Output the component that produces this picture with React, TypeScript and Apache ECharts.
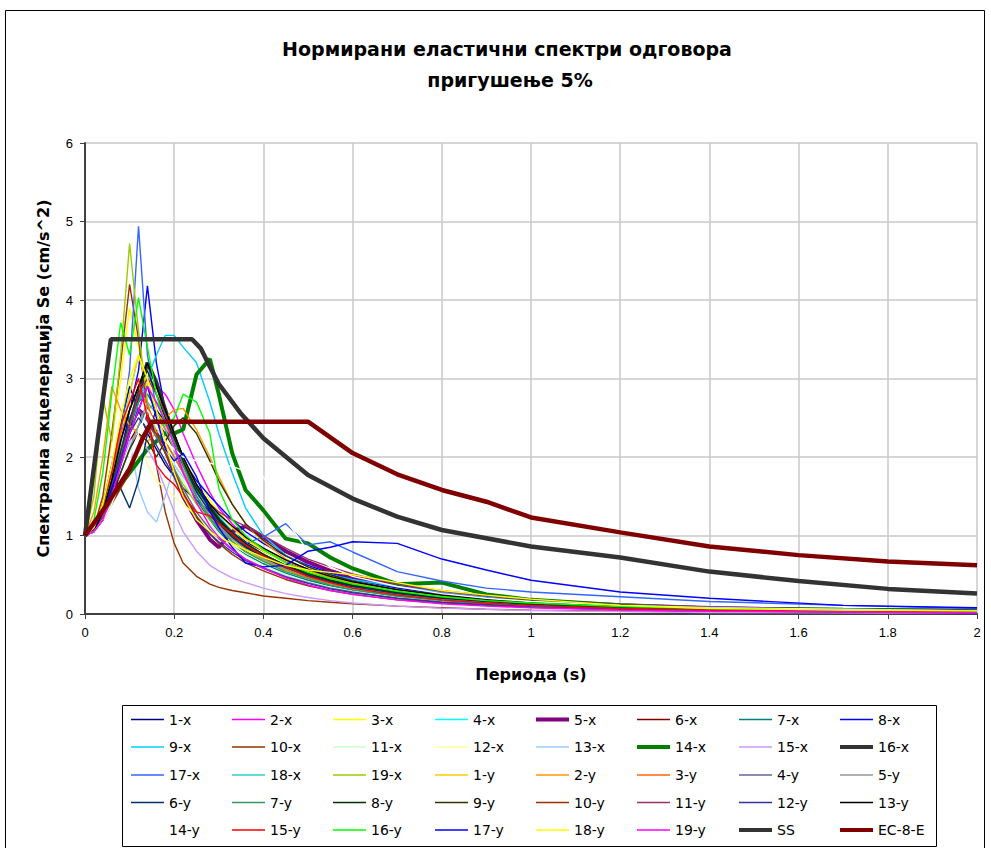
import React, { useEffect, useRef } from 'react';
import * as echarts from 'echarts';

// Period grid (s) shared by the recorded spectra
const periods = [0, 0.02, 0.04, 0.06, 0.08, 0.1, 0.12, 0.14, 0.16, 0.18, 0.2, 0.22, 0.25, 0.28, 0.3, 0.33, 0.36, 0.4, 0.45, 0.5, 0.55, 0.6, 0.7, 0.8, 0.9, 1.0, 1.2, 1.4, 1.7, 2.0];

const s1x = [1.0, 1.1, 1.4, 1.9, 2.4, 2.9, 2.6, 2.3, 2.1, 1.9, 1.75, 1.6, 1.45, 1.3, 1.2, 1.05, 0.92, 0.8, 0.66, 0.55, 0.46, 0.39, 0.28, 0.21, 0.16, 0.13, 0.08, 0.06, 0.04, 0.03];
const s2x = [1.0, 1.05, 1.2, 1.5, 1.9, 2.3, 2.7, 3.0, 2.9, 2.8, 2.6, 2.3, 1.9, 1.55, 1.35, 1.15, 0.98, 0.82, 0.66, 0.54, 0.45, 0.38, 0.27, 0.2, 0.15, 0.12, 0.08, 0.055, 0.035, 0.025];
const s3x = [1.0, 1.1, 1.5, 2.2, 3.0, 3.9, 3.4, 2.9, 2.6, 2.4, 2.2, 2.0, 1.7, 1.45, 1.3, 1.1, 0.95, 0.8, 0.65, 0.54, 0.46, 0.4, 0.3, 0.23, 0.18, 0.15, 0.1, 0.07, 0.05, 0.035];
const s4x = [1.0, 1.1, 1.3, 1.7, 2.3, 2.8, 3.3, 2.9, 2.6, 2.4, 2.2, 1.95, 1.65, 1.4, 1.25, 1.05, 0.9, 0.76, 0.62, 0.5, 0.42, 0.36, 0.26, 0.2, 0.15, 0.12, 0.08, 0.06, 0.04, 0.03];
const s5x = [1.0, 1.1, 1.3, 1.6, 2.0, 2.4, 2.6, 2.5, 2.3, 2.1, 1.8, 1.5, 1.2, 0.95, 0.85, 1.05, 1.12, 0.98, 0.8, 0.66, 0.55, 0.47, 0.36, 0.28, 0.22, 0.17, 0.11, 0.075, 0.05, 0.035];
const s6x = [1.0, 1.05, 1.2, 1.5, 1.9, 2.2, 2.4, 2.6, 2.45, 2.3, 2.1, 1.9, 1.6, 1.35, 1.2, 1.02, 0.88, 0.74, 0.6, 0.5, 0.42, 0.36, 0.27, 0.2, 0.16, 0.13, 0.09, 0.065, 0.045, 0.035];
const s7x = [1.0, 1.05, 1.3, 1.7, 2.1, 2.5, 2.7, 2.8, 2.6, 2.35, 2.1, 1.8, 1.45, 1.2, 1.05, 0.88, 0.76, 0.64, 0.52, 0.43, 0.36, 0.3, 0.22, 0.16, 0.13, 0.1, 0.065, 0.045, 0.03, 0.02];
const s8x = [1.0, 1.1, 1.3, 1.6, 2.0, 2.6, 3.1, 4.18, 3.2, 2.6, 2.2, 1.95, 1.7, 1.5, 1.38, 1.2, 1.05, 0.9, 0.74, 0.62, 0.52, 0.44, 0.33, 0.25, 0.2, 0.16, 0.11, 0.08, 0.055, 0.045];
const s9x = [1.0, 1.05, 1.2, 1.5, 1.9, 2.3, 2.7, 3.0, 3.3, 3.55, 3.55, 3.4, 3.2, 2.7, 2.3, 1.8, 1.35, 1.0, 0.75, 0.6, 0.5, 0.44, 0.35, 0.28, 0.22, 0.18, 0.12, 0.09, 0.06, 0.05];
const s10x = [1.0, 1.1, 1.5, 2.3, 3.2, 4.2, 3.5, 2.6, 1.9, 1.3, 0.9, 0.65, 0.48, 0.38, 0.34, 0.3, 0.27, 0.23, 0.2, 0.17, 0.15, 0.13, 0.1, 0.08, 0.06, 0.05, 0.035, 0.025, 0.02, 0.015];
const s11x = [1.0, 1.05, 1.25, 1.6, 2.0, 2.3, 2.5, 2.4, 2.25, 2.1, 1.9, 1.7, 1.4, 1.15, 1.02, 0.86, 0.74, 0.62, 0.5, 0.41, 0.34, 0.29, 0.21, 0.16, 0.12, 0.1, 0.065, 0.045, 0.03, 0.02];
const s12x = [1.0, 1.1, 1.4, 1.8, 2.3, 2.7, 2.3, 1.9, 1.7, 1.6, 1.5, 1.4, 1.25, 1.1, 1.0, 0.88, 0.78, 0.67, 0.55, 0.46, 0.38, 0.32, 0.24, 0.18, 0.14, 0.11, 0.075, 0.055, 0.04, 0.03];
const s13x = [1.0, 1.05, 1.3, 1.6, 1.9, 2.2, 1.6, 1.3, 1.17, 1.5, 1.9, 1.75, 1.5, 1.25, 1.1, 0.95, 0.85, 0.74, 0.62, 0.52, 0.44, 0.37, 0.28, 0.21, 0.17, 0.13, 0.09, 0.065, 0.045, 0.035];
const s14x = [1.0, 1.1, 1.25, 1.45, 1.65, 1.8, 1.95, 2.1, 2.2, 2.3, 2.3, 2.35, 3.05, 3.25, 2.8, 2.05, 1.58, 1.32, 0.96, 0.9, 0.72, 0.58, 0.38, 0.4, 0.25, 0.18, 0.11, 0.07, 0.055, 0.045];
const s15x = [1.0, 1.05, 1.2, 1.5, 1.9, 2.2, 2.3, 2.1, 1.9, 1.6, 1.3, 1.05, 0.8, 0.62, 0.55, 0.46, 0.4, 0.33, 0.26, 0.21, 0.17, 0.14, 0.1, 0.075, 0.06, 0.045, 0.03, 0.02, 0.015, 0.01];
const s16x = [1.0, 1.1, 1.3, 1.6, 2.0, 2.4, 2.8, 3.2, 2.95, 2.6, 2.25, 1.95, 1.6, 1.35, 1.2, 1.02, 0.88, 0.74, 0.6, 0.49, 0.41, 0.35, 0.26, 0.2, 0.16, 0.12, 0.085, 0.06, 0.04, 0.03];
const s17x = [1.0, 1.1, 1.3, 1.7, 2.3, 3.1, 4.94, 3.3, 2.6, 2.2, 2.0, 1.8, 1.5, 1.25, 1.1, 0.95, 0.9, 0.98, 1.15, 0.88, 0.92, 0.79, 0.54, 0.42, 0.33, 0.28, 0.22, 0.16, 0.11, 0.07];
const s18x = [1.0, 1.05, 1.2, 1.5, 1.8, 2.1, 2.4, 2.6, 2.7, 2.55, 2.3, 2.0, 1.6, 1.3, 1.15, 0.97, 0.84, 0.7, 0.57, 0.47, 0.39, 0.33, 0.24, 0.18, 0.14, 0.11, 0.075, 0.055, 0.04, 0.03];
const s19x = [1.0, 1.5, 2.77, 2.2, 3.3, 4.72, 3.6, 2.7, 2.3, 2.05, 1.85, 1.65, 1.4, 1.2, 1.08, 0.93, 0.8, 0.68, 0.56, 0.46, 0.39, 0.33, 0.25, 0.19, 0.15, 0.12, 0.08, 0.06, 0.04, 0.03];
const s1y = [1.0, 1.1, 1.3, 1.7, 2.2, 2.8, 3.3, 2.9, 2.6, 2.4, 2.2, 1.95, 1.65, 1.4, 1.28, 1.1, 0.96, 0.82, 0.68, 0.57, 0.48, 0.41, 0.31, 0.24, 0.19, 0.15, 0.1, 0.075, 0.05, 0.04];
const s2y = [1.0, 1.3, 2.0, 2.9, 2.6, 2.4, 2.3, 2.2, 2.3, 2.5, 2.6, 2.62, 2.35, 2.0, 1.75, 1.4, 1.15, 0.92, 0.7, 0.56, 0.46, 0.39, 0.29, 0.22, 0.17, 0.14, 0.095, 0.07, 0.05, 0.04];
const s3y = [1.0, 1.1, 1.35, 1.8, 2.3, 2.6, 2.9, 2.65, 2.4, 2.2, 2.0, 1.8, 1.5, 1.25, 1.12, 0.96, 0.83, 0.7, 0.57, 0.47, 0.39, 0.33, 0.24, 0.18, 0.14, 0.11, 0.075, 0.055, 0.04, 0.03];
const s4y = [1.0, 1.05, 1.2, 1.5, 1.9, 2.3, 2.6, 2.45, 2.25, 2.05, 1.85, 1.6, 1.3, 1.08, 0.96, 0.82, 0.7, 0.59, 0.48, 0.4, 0.33, 0.28, 0.2, 0.15, 0.12, 0.09, 0.06, 0.045, 0.03, 0.02];
const s5y = [1.0, 1.05, 1.2, 1.45, 1.8, 2.1, 2.4, 2.7, 2.55, 2.35, 2.1, 1.85, 1.5, 1.25, 1.12, 0.96, 0.83, 0.7, 0.58, 0.48, 0.4, 0.34, 0.25, 0.19, 0.15, 0.12, 0.08, 0.055, 0.04, 0.03];
const s6y = [1.0, 1.1, 1.4, 1.8, 1.6, 1.35, 1.7, 2.3, 2.6, 2.45, 2.2, 1.9, 1.55, 1.3, 1.15, 0.98, 0.85, 0.72, 0.59, 0.49, 0.41, 0.35, 0.26, 0.2, 0.16, 0.12, 0.08, 0.06, 0.04, 0.03];
const s7y = [1.0, 1.05, 1.25, 1.6, 2.0, 2.4, 2.7, 2.9, 2.7, 2.45, 2.2, 1.9, 1.5, 1.22, 1.08, 0.92, 0.79, 0.67, 0.54, 0.45, 0.37, 0.31, 0.23, 0.17, 0.13, 0.1, 0.07, 0.05, 0.035, 0.025];
const s8y = [1.0, 1.05, 1.3, 1.7, 2.2, 2.6, 2.9, 3.1, 2.8, 2.5, 2.25, 1.95, 1.6, 1.35, 1.2, 1.03, 0.9, 0.76, 0.62, 0.52, 0.43, 0.37, 0.28, 0.21, 0.17, 0.13, 0.09, 0.065, 0.045, 0.035];
const s9y = [1.0, 1.05, 1.2, 1.5, 1.8, 2.1, 2.3, 2.2, 2.0, 2.2, 2.4, 2.5, 2.3, 1.95, 1.7, 1.4, 1.15, 0.94, 0.74, 0.6, 0.5, 0.42, 0.31, 0.24, 0.19, 0.15, 0.1, 0.075, 0.05, 0.04];
const s10y = [1.0, 1.05, 1.2, 1.4, 1.6, 1.8, 2.1, 2.4, 2.3, 2.05, 1.8, 1.55, 1.25, 1.02, 0.9, 0.76, 0.65, 0.55, 0.44, 0.36, 0.3, 0.25, 0.18, 0.14, 0.11, 0.085, 0.055, 0.04, 0.03, 0.02];
const s11y = [1.0, 1.05, 1.25, 1.6, 2.0, 2.4, 2.8, 3.0, 2.8, 2.55, 2.3, 2.0, 1.65, 1.4, 1.3, 1.2, 1.12, 1.0, 0.84, 0.7, 0.6, 0.51, 0.38, 0.29, 0.23, 0.18, 0.12, 0.09, 0.06, 0.045];
const s12y = [1.0, 1.1, 1.3, 1.6, 2.0, 2.3, 2.5, 2.35, 2.15, 1.95, 1.75, 1.5, 1.22, 1.02, 0.92, 0.79, 0.68, 0.58, 0.47, 0.39, 0.32, 0.27, 0.2, 0.15, 0.12, 0.09, 0.06, 0.045, 0.03, 0.02];
const s13y = [1.0, 1.05, 1.3, 1.7, 2.2, 2.6, 2.9, 3.2, 2.9, 2.6, 2.3, 2.0, 1.65, 1.4, 1.27, 1.12, 0.98, 0.84, 0.69, 0.57, 0.48, 0.41, 0.31, 0.24, 0.19, 0.15, 0.1, 0.075, 0.05, 0.04];
const s14y = [1.0, 1.05, 1.2, 1.4, 1.7, 2.0, 2.3, 2.6, 2.4, 2.2, 2.1, 2.0, 1.95, 1.92, 1.9, 1.88, 1.82, 1.75, 1.2, 0.8, 0.6, 0.48, 0.35, 0.26, 0.2, 0.16, 0.11, 0.08, 0.06, 0.04];
const s15y = [1.0, 1.1, 1.4, 1.8, 2.4, 2.7, 3.0, 2.5, 1.9, 1.75, 1.65, 1.5, 1.3, 1.25, 1.15, 1.02, 0.88, 0.74, 0.6, 0.48, 0.4, 0.33, 0.24, 0.18, 0.14, 0.11, 0.07, 0.05, 0.035, 0.025];
const s16y = [1.0, 1.2, 1.8, 2.8, 3.71, 3.3, 4.03, 3.4, 2.8, 2.4, 2.5, 2.8, 2.7, 2.3, 1.6, 1.2, 1.0, 0.82, 0.65, 0.53, 0.45, 0.38, 0.29, 0.22, 0.17, 0.14, 0.095, 0.07, 0.05, 0.04];
const s17y = [1.0, 1.1, 1.3, 1.6, 1.9, 2.3, 2.6, 2.9, 2.5, 2.1, 1.95, 2.05, 1.75, 1.3, 1.1, 0.85, 0.65, 0.6, 0.62, 0.8, 0.85, 0.92, 0.9, 0.7, 0.56, 0.43, 0.28, 0.2, 0.11, 0.08];
const s18y = [1.0, 1.1, 1.4, 1.9, 2.5, 3.0, 3.3, 3.0, 2.6, 2.2, 1.8, 1.5, 1.2, 1.05, 0.98, 0.9, 0.82, 0.72, 0.62, 0.56, 0.53, 0.5, 0.4, 0.3, 0.24, 0.19, 0.11, 0.07, 0.05, 0.04];
const s19y = [1.0, 1.05, 1.2, 1.5, 1.9, 2.3, 2.6, 2.9, 2.7, 2.45, 2.15, 1.8, 1.42, 1.12, 0.98, 0.82, 0.7, 0.58, 0.46, 0.37, 0.3, 0.25, 0.18, 0.13, 0.1, 0.08, 0.05, 0.035, 0.025, 0.015];

// Design spectra
const ssPeriods = [0, 0.058, 0.24, 0.26, 0.28, 0.3, 0.35, 0.4, 0.5, 0.6, 0.7, 0.8, 1.0, 1.2, 1.4, 1.6, 1.8, 2.0];
const ssValues = [1.0, 3.5, 3.5, 3.38, 3.15, 2.93, 2.55, 2.24, 1.77, 1.47, 1.24, 1.07, 0.86, 0.72, 0.54, 0.42, 0.32, 0.26];
const ecPeriods = [0, 0.05, 0.1, 0.13, 0.15, 0.5, 0.6, 0.7, 0.8, 0.9, 1.0, 1.2, 1.4, 1.6, 1.8, 2.0];
const ecValues = [1.0, 1.4, 1.85, 2.25, 2.45, 2.45, 2.05, 1.78, 1.58, 1.43, 1.23, 1.04, 0.86, 0.75, 0.67, 0.62];

const recordNames = ['1-x', '2-x', '3-x', '4-x', '5-x', '6-x', '7-x', '8-x', '9-x', '10-x', '11-x', '12-x', '13-x', '14-x', '15-x', '16-x', '17-x', '18-x', '19-x',
  '1-y', '2-y', '3-y', '4-y', '5-y', '6-y', '7-y', '8-y', '9-y', '10-y', '11-y', '12-y', '13-y', '14-y', '15-y', '16-y', '17-y', '18-y', '19-y'];
const recordValues = [s1x, s2x, s3x, s4x, s5x, s6x, s7x, s8x, s9x, s10x, s11x, s12x, s13x, s14x, s15x, s16x, s17x, s18x, s19x,
  s1y, s2y, s3y, s4y, s5y, s6y, s7y, s8y, s9y, s10y, s11y, s12y, s13y, s14y, s15y, s16y, s17y, s18y, s19y];
const recordColors = ['#000080', '#FF00FF', '#FFFF00', '#00FFFF', '#800080', '#800000', '#008080', '#0000FF', '#00CCFF', '#993300', '#CCFFCC', '#FFFF99', '#99CCFF', '#008000', '#CC99FF', '#333333', '#3366FF', '#33CCCC', '#99CC00',
  '#FFCC00', '#FF9900', '#FF6600', '#666699', '#969696', '#003366', '#339966', '#003300', '#333300', '#993300', '#993366', '#333399', '#000000', '#FFFFFF', '#FF0000', '#00FF00', '#0000FF', '#FFFF00', '#FF00FF'];
const thickRecords = ['5-x', '14-x', '16-x'];

const titleLines = ['Нормирани еластични спектри одговора', 'пригушење 5%'];
const xName = 'Периода (s)';
const yName = 'Спектрална акцелерација Se (cm/s^2)';

const FONT = 'Liberation Sans, Arial, sans-serif';
const WIDE = 'DejaVu Sans, Verdana, sans-serif';

export default function App() {
  const ref = useRef<HTMLDivElement>(null);
  useEffect(() => {
    if (!ref.current) return;
    const chart = echarts.init(ref.current, null, { renderer: 'svg' });

    const series: any[] = recordNames.map((name, i) => {
      const thick = thickRecords.includes(name);
      return {
        type: 'line',
        name,
        data: periods.map((t, j) => [t, recordValues[i][j]]),
        symbol: 'none',
        color: recordColors[i],
        lineStyle: { color: recordColors[i], width: thick ? 4 : 1.4 },
        itemStyle: { color: recordColors[i] },
        emphasis: { disabled: true },
      };
    });
    series.push({
      type: 'line', name: 'SS', data: ssPeriods.map((t, j) => [t, ssValues[j]]), symbol: 'none',
      color: '#333333', lineStyle: { color: '#333333', width: 4.5 }, itemStyle: { color: '#333333' }, emphasis: { disabled: true },
    });
    series.push({
      type: 'line', name: 'EC-8-E', data: ecPeriods.map((t, j) => [t, ecValues[j]]), symbol: 'none',
      color: '#800000', lineStyle: { color: '#800000', width: 4.5 }, itemStyle: { color: '#800000' }, emphasis: { disabled: true },
    });

    const allNames = [...recordNames, 'SS', 'EC-8-E'];
    const colLeft = [131, 232, 333, 435, 536, 637, 739, 840];
    const rowMid = [720.5, 748, 776, 803.5, 831];
    const legends = allNames.map((name, i) => {
      const thick = thickRecords.includes(name) || name === 'SS' || name === 'EC-8-E';
      const h = thick ? 4 : 1.5;
      return {
        data: [{ name, icon: 'rect' }],
        left: colLeft[i % 8],
        top: rowMid[Math.floor(i / 8)] - 8,
        itemWidth: 33,
        itemHeight: h,
        itemGap: 0,
        padding: 0,
        selectedMode: false,
        itemStyle: { borderWidth: 0 },
        textStyle: { fontFamily: WIDE, fontSize: 14, color: '#000' },
      };
    });

    chart.setOption({
      animation: false,
      backgroundColor: '#ffffff',
      grid: { left: 85, top: 143, right: 14, bottom: 234, containLabel: false },
      xAxis: {
        type: 'value', min: 0, max: 2, interval: 0.2,
        name: xName, nameLocation: 'middle', nameGap: 52,
        nameTextStyle: { fontFamily: WIDE, fontWeight: 'bold', fontSize: 16, color: '#000' },
        axisLine: { show: true, onZero: false, lineStyle: { color: '#404040', width: 2 } },
        axisTick: { show: true, inside: false, length: 5, lineStyle: { color: '#404040', width: 1 } },
        axisLabel: { margin: 12, fontFamily: FONT, fontSize: 13, color: '#000', formatter: (v: number) => String(parseFloat(v.toFixed(1))) },
        splitLine: { show: true, lineStyle: { color: '#c8c8c8', width: 1.5 } },
      },
      yAxis: {
        type: 'value', min: 0, max: 6, interval: 1,
        name: yName, nameLocation: 'middle', nameGap: 34,
        nameTextStyle: { fontFamily: WIDE, fontWeight: 'bold', fontSize: 16, color: '#000' },
        axisLine: { show: true, onZero: false, lineStyle: { color: '#404040', width: 2 } },
        axisTick: { show: true, inside: false, length: 5, lineStyle: { color: '#404040', width: 1 } },
        axisLabel: { margin: 12, fontFamily: FONT, fontSize: 13, color: '#000' },
        splitLine: { show: true, lineStyle: { color: '#c8c8c8', width: 1.5 } },
      },
      legend: legends,
      series,
      graphic: [
        { type: 'rect', silent: true, z: -10, shape: { x: 5.5, y: 10.5, width: 979, height: 845 }, style: { fill: 'none', stroke: '#000', lineWidth: 1 } },
        { type: 'rect', silent: true, shape: { x: 122.5, y: 705.5, width: 814, height: 141 }, style: { fill: 'none', stroke: '#000', lineWidth: 1 } },
        { type: 'text', silent: true, x: 507, y: 49, style: { text: titleLines[0], align: 'center', verticalAlign: 'middle', fontFamily: WIDE, fontWeight: 'bold', fontSize: 19, fill: '#000' } },
        { type: 'text', silent: true, x: 510, y: 80, style: { text: titleLines[1], align: 'center', verticalAlign: 'middle', fontFamily: WIDE, fontWeight: 'bold', fontSize: 19, fill: '#000' } },
      ],
    });
    return () => chart.dispose();
  }, []);
  return <div ref={ref} style={{ position: 'absolute', left: 0, top: 0, width: 991, height: 848 }} />;
}
